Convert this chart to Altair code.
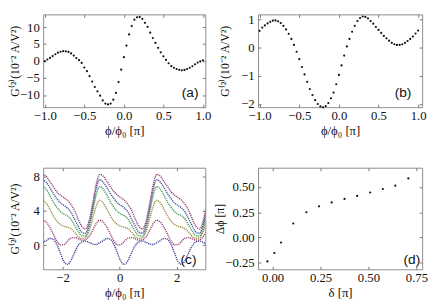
import altair as alt
import pandas as pd

# ---------------- panel (a) ----------------
a_x = [-1 + i / 30 for i in range(61)]
a_y = [0.0, 0.45, 0.92, 1.45, 2.0, 2.47, 2.74, 2.9, 2.87, 2.68, 2.24, 1.6, 0.87, 0.26,
       -0.55, -1.9, -3.0, -4.47, -6.05, -7.66, -8.92, -10.2, -11.6, -12.55, -12.8,
       -12.55, -11.4, -9.4, -6.2, -2.55, 1.13, 4.55, 7.84, 10.3, 12.2, 12.9, 13.0,
       12.45, 11.26, 10.1, 8.37, 6.8, 5.34, 3.9, 2.58, 1.4, 0.34, -0.66, -1.5, -1.97,
       -2.34, -2.6, -2.74, -2.63, -2.34, -1.97, -1.53, -0.97, -0.45, -0.1, 0.2]

# ---------------- panel (b) ----------------
b_x = [-1 + i / 30 for i in range(61)]
b_y = [0.605, 0.72, 0.796, 0.869, 0.924, 0.965, 0.975, 0.943, 0.879, 0.783, 0.656,
       0.497, 0.318, 0.105, -0.14, -0.404, -0.682, -0.946, -1.21, -1.465, -1.678,
       -1.86, -1.997, -2.083, -2.115, -2.07, -1.965, -1.796, -1.592, -1.296, -0.962,
       -0.627, -0.277, 0.051, 0.318, 0.573, 0.783, 0.955, 1.06, 1.115, 1.10, 1.05,
       0.955, 0.86, 0.742, 0.637, 0.529, 0.424, 0.338, 0.255, 0.178, 0.127, 0.105,
       0.105, 0.127, 0.178, 0.242, 0.318, 0.401, 0.51, 0.615]

# ---------------- panel (c) : one period, phase t measured from the peak ----------------
c_t = [0, 0.125, 0.25, 0.375, 0.5, 0.625, 0.75, 0.875, 1.0, 1.125, 1.25, 1.375, 1.5,
       1.625, 1.75, 1.875]
c_phase0 = -0.7
c_periods = [-2, 0, 2]
c_series = {
    "s1": [0.3, 0.55, 0.8, 0.7, 0.1, -0.9, -1.9, -2.2, -1.7, -0.8, 0.0, 0.4, 0.5, 0.35, 0.15, 0.1],
    "s2": [2.9, 2.7, 2.1, 1.3, 0.5, 0.05, 0.1, 0.5, 0.85, 0.9, 0.75, 0.6, 0.65, 1.0, 1.7, 2.5],
    "s3": [5.2, 4.9, 4.2, 3.4, 2.8, 2.4, 2.2, 2.1, 1.9, 1.5, 1.0, 0.8, 0.9, 1.6, 3.0, 4.5],
    "s4": [6.8, 6.5, 5.8, 5.0, 4.4, 3.9, 3.6, 3.4, 3.0, 2.3, 1.6, 1.1, 1.1, 2.0, 3.8, 5.8],
    "s5": [7.6, 7.3, 6.7, 6.0, 5.4, 4.9, 4.6, 4.3, 3.8, 3.0, 2.2, 1.5, 1.4, 2.4, 4.3, 6.5],
    "s6": [8.2, 8.0, 7.4, 6.8, 6.2, 5.8, 5.5, 5.2, 4.7, 4.0, 3.0, 2.2, 1.9, 2.8, 4.8, 7.0],
}
c_colors = ["#3d3d99", "#993d71", "#998b3d", "#3d9950", "#3d4f99", "#8f3d6e"]

# ---------------- panel (d) ----------------
d_x = [-0.027, 0.009, 0.044, 0.108, 0.176, 0.242, 0.308, 0.375, 0.441, 0.509, 0.575, 0.640, 0.708]
d_y = [-0.236, -0.153, -0.049, 0.139, 0.25, 0.308, 0.347, 0.382, 0.411, 0.445, 0.48, 0.513, 0.584]

SERIF = "'Liberation Serif', 'Times New Roman', serif"
SANS = "'Liberation Sans', Arial, sans-serif"
FRAME = "#8c8c8c"
INK = "#111111"
TICK = "#777777"


def xaxis(title, values, fmt):
    return alt.Axis(title=title, values=values, format=fmt, grid=False, domain=False,
                    offset=-3, tickSize=3, tickColor=TICK, labelPadding=3,
                    labelFont=SERIF, labelFontSize=13, labelColor=INK,
                    titleFont=SERIF, titleFontSize=13, titleFontWeight="normal",
                    titleColor=INK, titlePadding=2)


def yaxis(title, values, fmt, tx):
    return alt.Axis(title=title, values=values, format=fmt, grid=False, domain=False,
                    offset=-3, tickSize=3, tickColor=TICK, labelPadding=4,
                    labelFont=SERIF, labelFontSize=13, labelColor=INK,
                    titleFont=SERIF, titleFontSize=12, titleFontWeight="normal",
                    titleColor=INK, titleX=tx)


def ghost_axis(orient, values):
    return alt.Axis(orient=orient, values=values, labels=False, title=None, grid=False,
                    domain=False, offset=-3, tickSize=3, tickColor=TICK)


def tag(text, w, h, dx, dy):
    return alt.Chart(pd.DataFrame({"t": [text]})).mark_text(
        font=SANS, fontSize=14, align="right", baseline="bottom", color="#111"
    ).encode(text="t:N", x=alt.value(w - dx), y=alt.value(h - dy))


def panel(df, xdom, ydom, xt, xv, xf, yt, yv, yf, tx, label, w, h, dx, dy):
    xs = alt.Scale(domain=xdom, nice=False, zero=False)
    ys = alt.Scale(domain=ydom, nice=False, zero=False)
    pts = alt.Chart(df).mark_circle(size=5, color="#111", opacity=1).encode(
        x=alt.X("x:Q", scale=xs, axis=xaxis(xt, xv, xf)),
        y=alt.Y("y:Q", scale=ys, axis=yaxis(yt, yv, yf, tx)),
    )
    ghost = alt.Chart(df).mark_circle(size=5, opacity=0).encode(
        x=alt.X("x:Q", scale=xs, axis=ghost_axis("top", xv)),
        y=alt.Y("y:Q", scale=ys, axis=ghost_axis("right", yv)),
    )
    return alt.layer(pts, ghost, tag(label, w, h, dx, dy)).resolve_axis(
        x="independent", y="independent").properties(width=w, height=h)


GT = "G⁽²⁾(10⁻² A/V²)"
PHT = "ϕ/ϕ₀ [π]"

A = panel(pd.DataFrame({"x": a_x, "y": a_y}), [-1.02, 1.03], [-13.6, 13.76],
          PHT, [-1, -0.5, 0, 0.5, 1], ".1f", GT, [-10, -5, 0, 5, 10], "d", -25,
          "(a)", 166, 95, 7, 7)
B = panel(pd.DataFrame({"x": b_x, "y": b_y}), [-1.02, 1.05], [-2.11, 1.19],
          PHT, [-1, -0.5, 0, 0.5, 1], ".1f", GT, [-2, -1, 0, 1], "d", -30,
          "(b)", 168, 95, 11, 7)
D = panel(pd.DataFrame({"x": d_x, "y": d_y}), [-0.076, 0.78], [-0.314, 0.69],
          "δ [π]", [0, 0.25, 0.5, 0.75], ".2f", "Δϕ [π]", [-0.25, 0, 0.25, 0.5], ".2f", -35,
          "(d)", 168, 104, 2, 2)

# (c)
rows = []
for si, (name, vals) in enumerate(c_series.items()):
    for p in c_periods:
        for t, v in zip(c_t, vals):
            rows.append({"s": name, "x": c_phase0 + p + t, "y": v})
    rows.append({"s": name, "x": c_phase0 + c_periods[-1] + 2, "y": vals[0]})
dc = pd.DataFrame(rows)
wc, hc = 166, 104
xsc = alt.Scale(domain=[-2.68, 3.0], nice=False, zero=False)
ysc = alt.Scale(domain=[-2.77, 8.98], nice=False, zero=False)
pc = alt.Chart(dc).mark_line(strokeWidth=1.4, strokeDash=[1.2, 0.9], clip=True,
                             interpolate="monotone").encode(
    x=alt.X("x:Q", scale=xsc, axis=xaxis(PHT, [-2, 0, 2], "d")),
    y=alt.Y("y:Q", scale=ysc, axis=yaxis(GT, [0, 4, 8], "d", -25)),
    color=alt.Color("s:N", scale=alt.Scale(domain=list(c_series.keys()), range=c_colors),
                    legend=None),
    detail="s:N",
)
gc = alt.Chart(dc).mark_circle(size=5, opacity=0).encode(
    x=alt.X("x:Q", scale=xsc, axis=ghost_axis("top", [-2, 0, 2])),
    y=alt.Y("y:Q", scale=ysc, axis=ghost_axis("right", [0, 4, 8])),
)
C = alt.layer(pc, gc, tag("(c)", wc, hc, 9, 2)).resolve_axis(
    x="independent", y="independent").properties(width=wc, height=hc)

chart = alt.concat(A, B, C, D, columns=2, spacing={"row": 62, "column": 54},
                   bounds="flush").properties(
    padding={"left": 0, "top": 1, "right": 0, "bottom": 0},
    background="white",
).configure_view(stroke=FRAME, strokeWidth=1)

chart.save("out.html", embed_options={"renderer": "svg", "actions": False})
